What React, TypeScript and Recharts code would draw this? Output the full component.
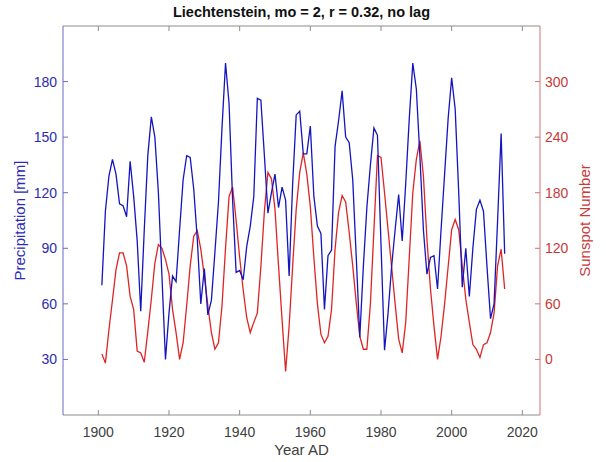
import { LineChart, Line, XAxis, YAxis } from "recharts";

const TITLE = "Liechtenstein, mo = 2, r = 0.32, no lag";
const FIRST_YEAR = 1901;

// precipitation [mm], 1901..2015
const precipitation = [
    70, 110, 129, 138, 130, 114, 113, 107, 137, 118,
    94, 56, 100, 140, 161, 150, 120, 75, 30, 55,
    75, 72, 100, 127, 140, 139, 122, 95, 60, 79,
    54, 62, 88, 115, 155, 190, 168, 116, 77, 78,
    73, 91, 102, 118, 171, 170, 140, 109, 120, 130,
    112, 123, 116, 75, 125, 162, 164, 141, 141, 156,
    118, 102, 98, 57, 86, 89, 145, 159, 175, 150,
    147, 127, 85, 42, 80, 112, 135, 155, 151, 92,
    35, 55, 80, 100, 119, 94, 125, 160, 190, 176,
    140, 100, 76, 85, 86, 68, 100, 130, 160, 182,
    165, 120, 69, 90, 64, 90, 111, 116, 110, 80,
    52, 60, 105, 152, 87,
];

// sunspot number, 1901..2015
const sunspots = [
    6, -4, 32, 64, 97, 115, 115, 101, 68, 54,
    9, 7, -3, 30, 65, 104, 124, 120, 108, 92,
    54, 29, 0, 18, 58, 101, 133, 139, 119, 90,
    58, 29, 11, 18, 58, 120, 176, 186, 150, 110,
    75, 45, 29, 40, 50, 100, 160, 202, 195, 162,
    101, 43, -13, 36, 101, 162, 202, 223, 200, 165,
    110, 60, 27, 18, 25, 54, 119, 159, 177, 170,
    137, 101, 61, 25, 11, 11, 60, 140, 220, 218,
    180, 140, 100, 60, 22, 7, 40, 110, 180, 216,
    236, 198, 130, 76, 36, 0, 25, 60, 100, 140,
    151, 140, 101, 65, 40, 16, 11, 2, 16, 18,
    29, 50, 101, 119, 76,
];

const yearTicks = [1900, 1920, 1940, 1960, 1980, 2000, 2020];
const precipTicks = [30, 60, 90, 120, 150, 180];
const sunspotTicks = [0, 60, 120, 180, 240, 300];

const data = precipitation.map((p, i) => ({
    year: FIRST_YEAR + i,
    precip: p,
    sunspot: sunspots[i],
}));

const FONT = '"Liberation Sans", Arial, sans-serif';
const BLUE = "#1414c0";
const RED = "#e02424";
const BLUE_TEXT = "#2b2bb5";
const RED_TEXT = "#c83a3a";
const GREY = "#8c8c8c";
const TICK_LEN = 5;
const X_GAP = 12;
const LEFT_GAP = 6;
const RIGHT_GAP = 5;

const XTick = ({ x, y, payload }: any) => (
    <g>
        <line x1={x} x2={x} y1={y - X_GAP} y2={y - X_GAP - TICK_LEN} stroke={GREY} />
        <text x={x} y={y} dy="0.71em" textAnchor="middle" fill="#404040" fontSize={14} fontFamily={FONT}>
            {payload.value}
        </text>
    </g>
);

const TopTick = ({ x, y }: any) => (
    <line x1={x} x2={x} y1={y} y2={y + TICK_LEN} stroke={GREY} />
);

const LeftTick = ({ x, y, payload }: any) => (
    <g>
        <line x1={x + LEFT_GAP} x2={x + LEFT_GAP + TICK_LEN} y1={y} y2={y} stroke="#6b6bc4" />
        <text x={x} y={y} dy="0.355em" textAnchor="end" fill={BLUE_TEXT} fontSize={14} fontFamily={FONT}>
            {payload.value}
        </text>
    </g>
);

const RightTick = ({ x, y, payload }: any) => (
    <g>
        <line x1={x - RIGHT_GAP} x2={x - RIGHT_GAP - TICK_LEN} y1={y} y2={y} stroke="#d27070" />
        <text x={x} y={y} dy="0.355em" textAnchor="start" fill={RED_TEXT} fontSize={14} fontFamily={FONT}>
            {payload.value}
        </text>
    </g>
);

export default function App() {
    return (
        <div style={{ position: "absolute", left: 0, top: 0, background: "#fff" }}>
            <LineChart
                width={606}
                height={462}
                data={data}
                margin={{ top: 0, right: 0, bottom: 0, left: 0 }}
            >
                <XAxis
                    xAxisId="b"
                    dataKey="year"
                    type="number"
                    domain={[1890, 2025]}
                    ticks={yearTicks}
                    interval={0}
                    height={47}
                    tickSize={0}
                    tickMargin={X_GAP}
                    tick={<XTick />}
                    axisLine={{ stroke: GREY }}
                    label={{
                        value: "Year AD",
                        position: "insideBottom",
                        offset: 7,
                        style: { fill: "#404040", fontSize: 15, fontFamily: FONT },
                    }}
                />
                <XAxis
                    xAxisId="t"
                    orientation="top"
                    dataKey="year"
                    type="number"
                    domain={[1890, 2025]}
                    ticks={yearTicks}
                    interval={0}
                    height={26}
                    tickSize={0}
                    tickMargin={0}
                    tick={<TopTick />}
                    axisLine={{ stroke: GREY }}
                    label={{
                        value: TITLE,
                        position: "insideTop",
                        offset: 7,
                        style: { fill: "#111", fontSize: 14.5, fontWeight: "bold", fontFamily: FONT },
                    }}
                />
                <YAxis
                    yAxisId="left"
                    domain={[0, 210]}
                    ticks={precipTicks}
                    interval={0}
                    width={63}
                    tickSize={0}
                    tickMargin={LEFT_GAP}
                    tick={<LeftTick />}
                    axisLine={{ stroke: "#6b6bc4" }}
                    label={{
                        value: "Precipitation [mm]",
                        angle: -90,
                        position: "insideLeft",
                        offset: 20,
                        style: { textAnchor: "middle", fill: BLUE_TEXT, fontSize: 15, fontFamily: FONT },
                    }}
                />
                <YAxis
                    yAxisId="right"
                    orientation="right"
                    domain={[-60, 360]}
                    ticks={sunspotTicks}
                    interval={0}
                    width={66}
                    tickSize={0}
                    tickMargin={RIGHT_GAP}
                    tick={<RightTick />}
                    axisLine={{ stroke: "#d27070" }}
                    label={{
                        value: "Sunspot Number",
                        angle: -90,
                        position: "insideRight",
                        offset: 21,
                        style: { textAnchor: "middle", fill: RED_TEXT, fontSize: 15, fontFamily: FONT },
                    }}
                />
                <Line
                    xAxisId="b"
                    yAxisId="right"
                    dataKey="sunspot"
                    type="linear"
                    stroke={RED}
                    strokeWidth={1.3}
                    dot={false}
                    isAnimationActive={false}
                />
                <Line
                    xAxisId="b"
                    yAxisId="left"
                    dataKey="precip"
                    type="linear"
                    stroke={BLUE}
                    strokeWidth={1.3}
                    dot={false}
                    isAnimationActive={false}
                />
            </LineChart>
        </div>
    );
}
